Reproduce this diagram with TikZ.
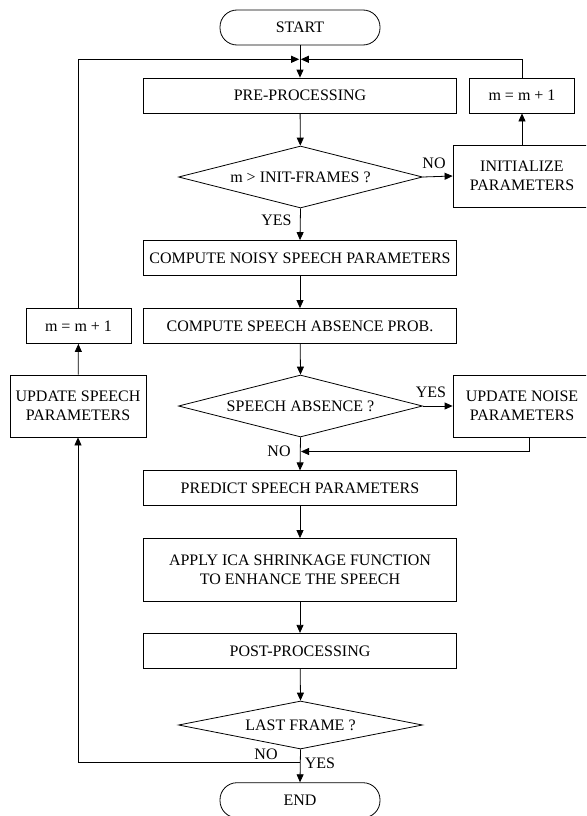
\documentclass[tikz,border=0pt]{standalone}
\usepackage{fontspec}
\setmainfont{Liberation Serif}
\usetikzlibrary{shapes.geometric,arrows.meta,calc}
\begin{document}
\begin{tikzpicture}[x=1pt,y=-1pt,
  every node/.style={font=\fontsize{16}{19}\selectfont, inner sep=0pt},
  proc/.style={draw, rectangle, minimum width=313pt, minimum height=35pt, align=center},
  side/.style={draw, rectangle, minimum width=105pt, minimum height=35pt, align=center},
  tall/.style={draw, rectangle, minimum width=138pt, minimum height=62pt, align=center},
  term/.style={draw, rectangle, rounded corners=17pt, minimum width=160pt, minimum height=35pt},
  dec/.style={draw, diamond, shape aspect=4, minimum width=244pt, minimum height=62pt},
  arr/.style={-{Triangle[length=8pt,width=7pt]}},
  line width=0.8pt]
\clip (0,0) rectangle (586,816);
\fill[white] (0,0) rectangle (586,816);

% main column
\node[term] (start) at (300,27.5) {START};
\node[proc] (pre) at (300,95.5) {PRE-PROCESSING};
\node[dec] (d1) at (300.5,177) {m > INIT-FRAMES ?};
\node[proc] (noisy) at (300,258) {COMPUTE NOISY SPEECH PARAMETERS};
\node[proc] (absp) at (300,326) {COMPUTE SPEECH ABSENCE PROB.};
\node[dec] (d2) at (300.5,406) {SPEECH ABSENCE ?};
\node[proc] (pred) at (300,488.3) {PREDICT SPEECH PARAMETERS};
\node[proc, minimum height=63pt] (apply) at (300,570) {APPLY ICA SHRINKAGE FUNCTION\\TO ENHANCE THE SPEECH};
\node[proc] (post) at (300,650.8) {POST-PROCESSING};
\node[dec, minimum height=48pt] (d3) at (300.5,725) {LAST FRAME ?};
\node[term] (end) at (300,800.2) {END};

% right column
\node[side] (minc1) at (522,95.5) {m = m + 1};
\node[tall] (init) at (522,176) {INITIALIZE\\PARAMETERS};
\node[tall] (updn) at (522,406) {UPDATE NOISE\\PARAMETERS};

% left column
\node[side] (minc2) at (78.5,326) {m = m + 1};
\node[tall, minimum width=136pt] (upds) at (78,406) {UPDATE SPEECH\\PARAMETERS};

% junction coordinates
\coordinate (jl) at (299.2,59.3);
\coordinate (jr) at (300.8,59.3);
\coordinate (jn) at (301,451.5);
\coordinate (jb) at (300,762.7);

% labels
\node (lno1) at (434,163) {NO};
\node (lyes1) at (276.5,220) {YES};
\node (lyes2) at (431,392) {YES};
\node (lno2) at (279,451) {NO};
\node (lno3) at (266,754) {NO};
\node (lyes3) at (320,763) {YES};

% connectors
\draw[arr] (start) -- (pre);
\draw[arr] (minc2.north) |- (jl);
\draw[arr] (minc1.north) |- (jr);
\draw[arr] (pre) -- (d1);
\draw[arr] (d1.east) -- (init.west);
\draw[arr] (init) -- (minc1);
\draw[arr] (d1.south) -- (noisy.north);
\draw[arr] (noisy) -- (absp);
\draw[arr] (absp) -- (d2.north);
\draw[arr] (d2.east) -- (updn.west);
\draw[arr] ([xshift=7pt]updn.south) |- (jn);
\draw[arr] (d2.south) -- (pred.north);
\draw[arr] (pred) -- (apply);
\draw[arr] (apply) -- (post);
\draw[arr] (post) -- (d3.north);
\draw[arr] (d3.south) -- (end.north);
\draw[arr] (jb) -| (upds.south);
\draw[arr] (upds) -- (minc2);
\end{tikzpicture}
\end{document}
